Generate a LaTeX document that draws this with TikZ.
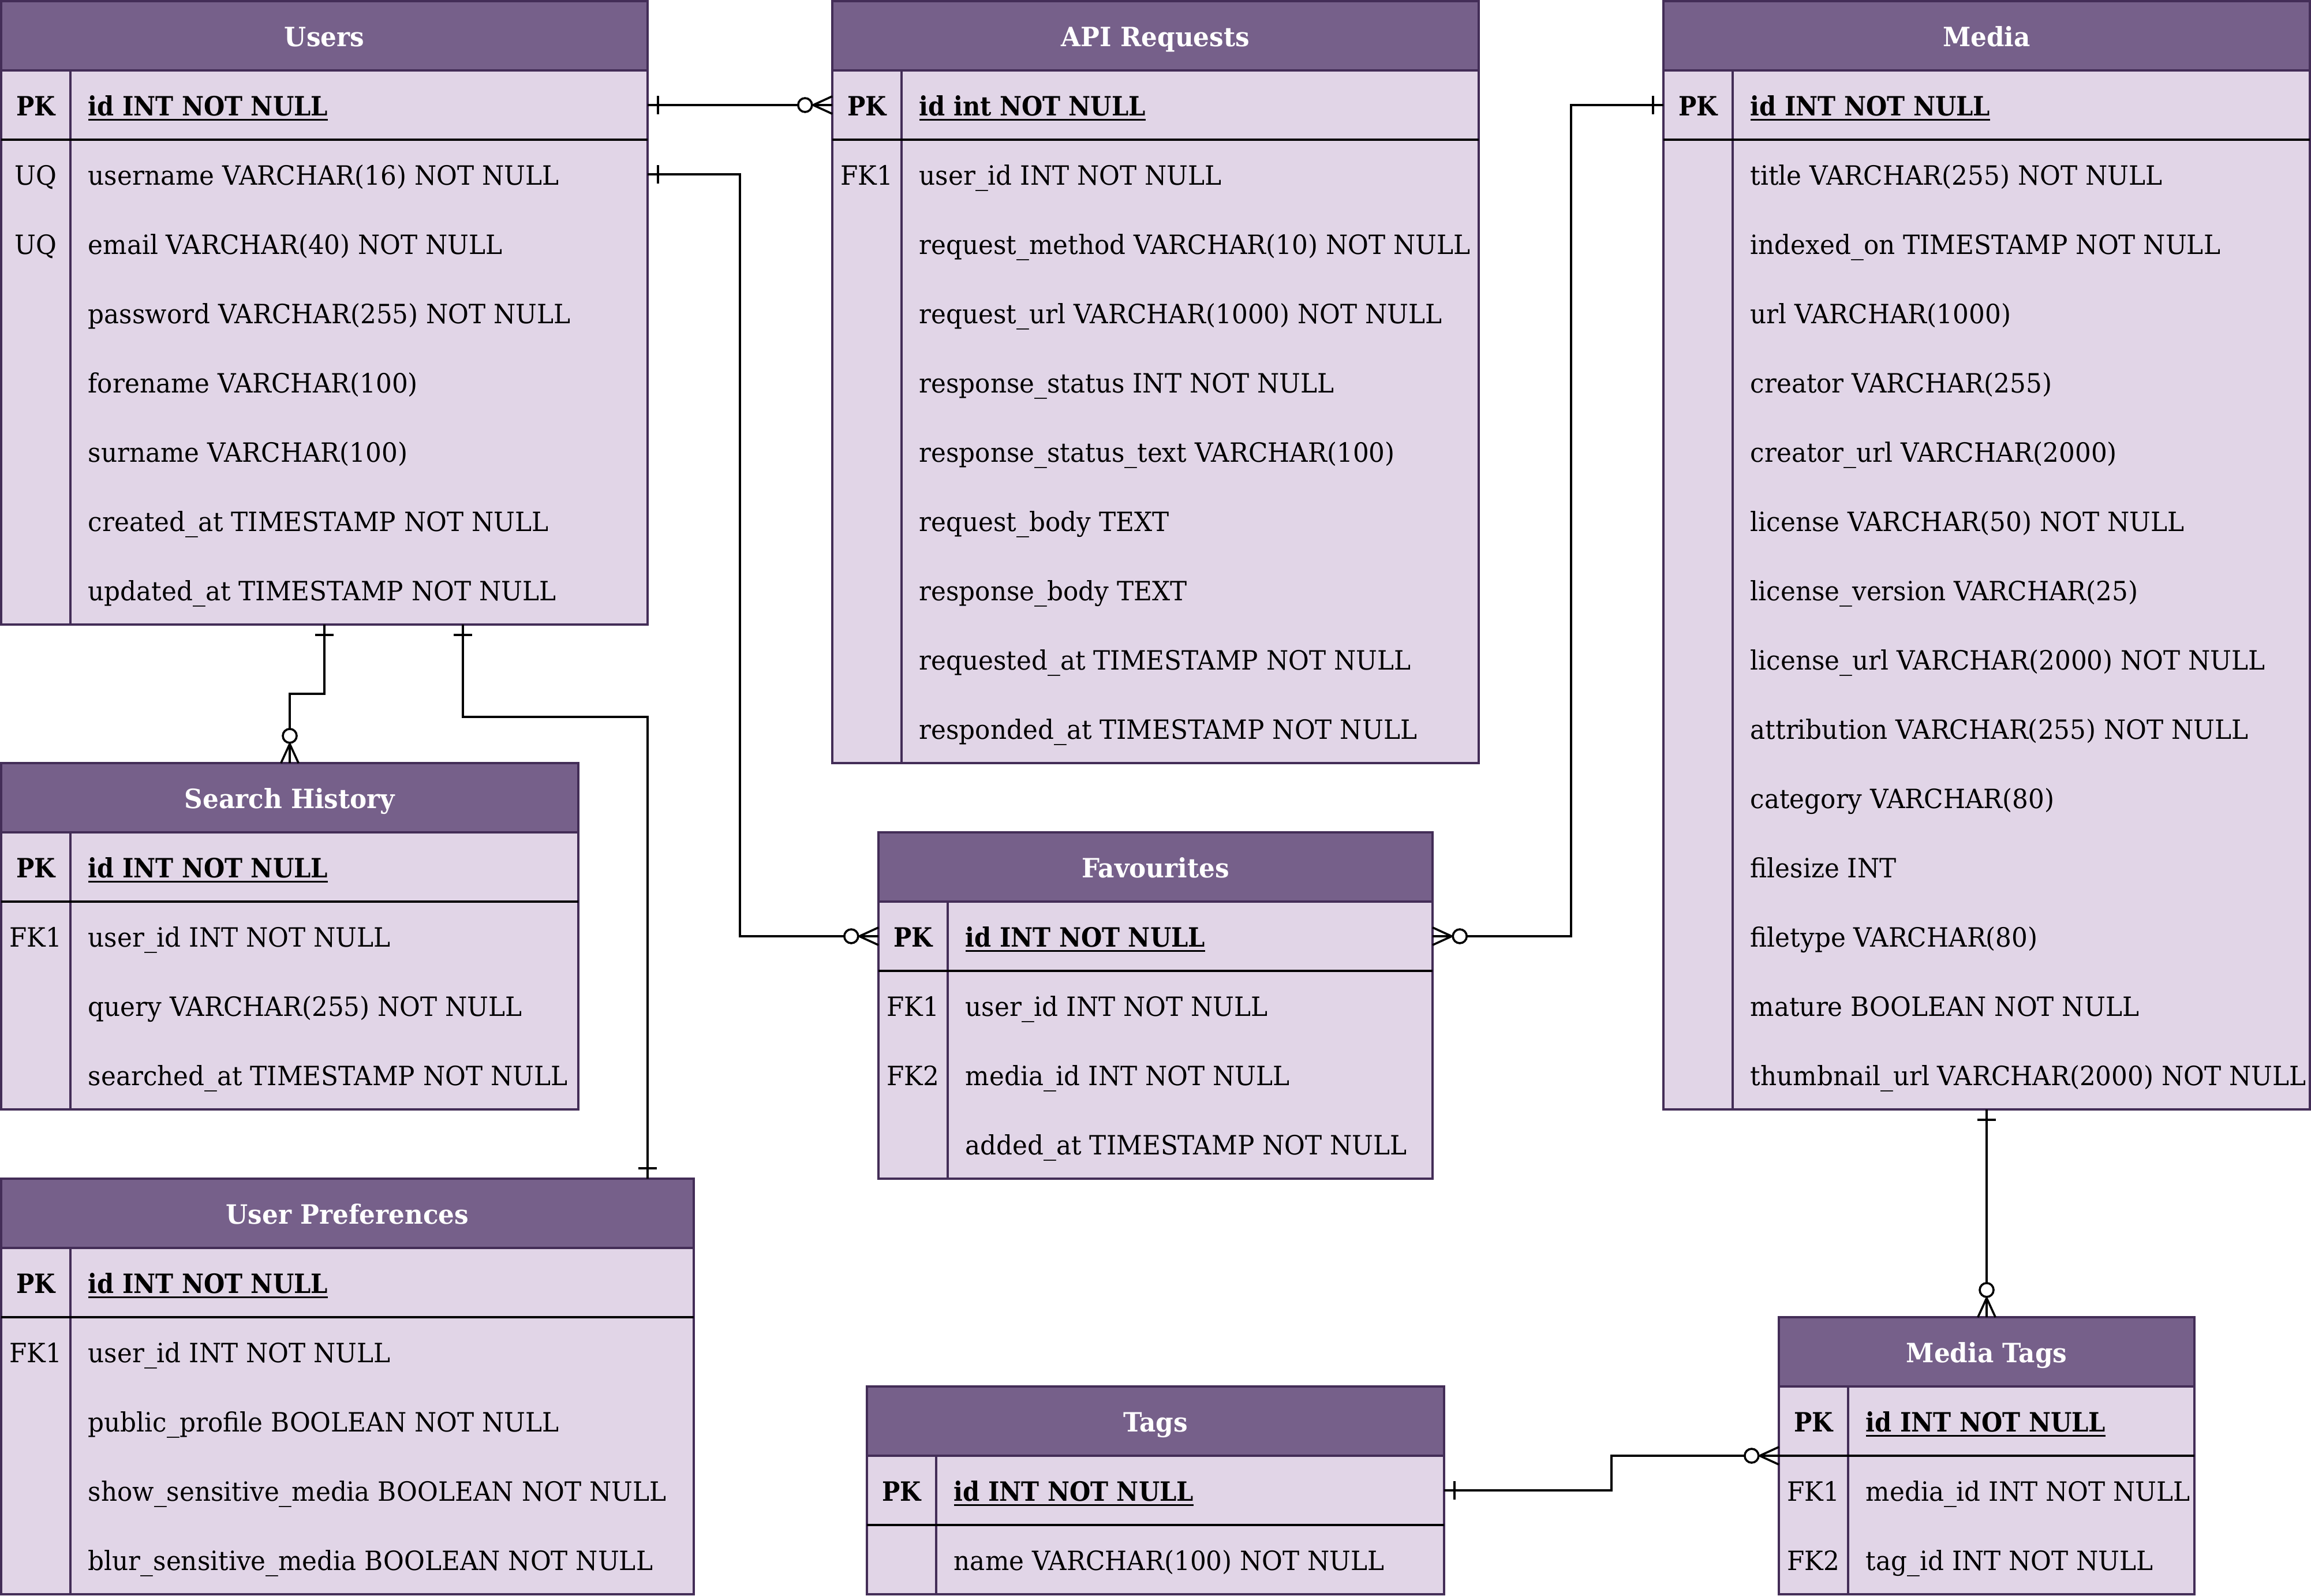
\documentclass[tikz,border=0pt]{standalone}
\usepackage{fontspec}
\setmainfont{DejaVu Serif}[FakeStretch=0.95]
\newfontfamily\pkfont{DejaVu Serif}[FakeStretch=0.905]
\definecolor{hdrfill}{HTML}{76608A}
\definecolor{tabstroke}{HTML}{432D57}
\definecolor{bodyfill}{HTML}{E1D5E7}
\pgfdeclarearrow{
  name = ERone,
  setup code = {
    \pgfarrowssettipend{0pt}
    \pgfarrowssetlineend{0pt}
    \pgfarrowssetbackend{-5pt}
    \pgfarrowsupperhullpoint{-5pt}{4pt}
    \pgfarrowsupperhullpoint{0pt}{4pt}
  },
  drawing code = {
    \pgfsetdash{}{0pt}
    \pgfpathmoveto{\pgfqpoint{-4.5pt}{-4pt}}
    \pgfpathlineto{\pgfqpoint{-4.5pt}{4pt}}
    \pgfusepathqstroke
  },
}
\pgfdeclarearrow{
  name = ERzmany,
  setup code = {
    \pgfarrowssettipend{0pt}
    \pgfarrowssetlineend{0pt}
    \pgfarrowssetbackend{-16pt}
    \pgfarrowsupperhullpoint{-16pt}{4pt}
    \pgfarrowsupperhullpoint{0pt}{4pt}
  },
  drawing code = {
    \pgfsetdash{}{0pt}
    \pgfpathmoveto{\pgfqpoint{0pt}{3.8pt}}
    \pgfpathlineto{\pgfqpoint{-8.3pt}{0pt}}
    \pgfpathlineto{\pgfqpoint{0pt}{-3.8pt}}
    \pgfusepathqstroke
    \pgfsetfillcolor{white}
    \pgfpathcircle{\pgfqpoint{-11.8pt}{0pt}}{3pt}
    \pgfusepathqfillstroke
  },
}
\newcommand\erfont{\fontsize{11.5}{14}\selectfont}
\newcommand\pkul[1]{\setbox0\hbox{#1}\rlap{\rule[-2pt]{\wd0}{0.8pt}}\box0}
\tikzset{
  hdrbox/.style={rectangle, inner sep=0pt, outer sep=0pt, minimum height=30pt, fill=hdrfill, draw=tabstroke, line width=1pt},
  rowbox/.style={rectangle, inner sep=0pt, outer sep=0pt, minimum height=30pt, fill=bodyfill, draw=tabstroke, line width=1pt},
  rowcell/.style={rectangle, inner sep=0pt, outer sep=0pt, minimum height=30pt},
  hdrtext/.style={anchor=base, inner sep=0pt, text=white, font=\erfont\bfseries},
  keytext/.style={anchor=base, inner sep=0pt, font=\erfont},
  fieldtext/.style={anchor=base west, inner sep=0pt, font=\erfont},
  pktext/.style={font=\pkfont\erfont\bfseries},
  divider/.style={draw=tabstroke, line width=1pt},
  pksep/.style={draw=black, line width=1pt},
  conn/.style={draw=black, line width=0.9pt},
}
\newcommand\erTable[8]{%
  \node[hdrbox, minimum width=#4pt, anchor=north west] (#1) at (#2,#3) {};
  \node[hdrtext] (#1-title) at ([yshift=-4.7pt]#1.center) {#6};
  \node[rowbox, minimum width=#4pt, anchor=north west] (#1-pk) at (#2,#3+30) {};
  \node[rowbox, minimum width=#4pt, minimum height=#5*30pt, anchor=north west] (#1-body) at (#2,#3+60) {};
  \draw[divider] ([xshift=30pt]#1-pk.north west) -- ([xshift=30pt]#1-body.south west);
  \draw[pksep] (#1-pk.south west) -- (#1-pk.south east);
  \node[keytext, pktext] (#1-pkk) at ([xshift=15pt,yshift=-4.7pt]#1-pk.west) {PK};
  \node[fieldtext, pktext] (#1-pkf) at ([xshift=37.5pt,yshift=-4.7pt]#1-pk.west) {\pkul{#7}};
  \foreach \k/\f [count=\i] in {#8} {
    \node[rowcell, minimum width=#4pt, anchor=north west] (#1-r\i) at (#2,{#3+30+30*\i}) {};
    \node[keytext] (#1-k\i) at ([xshift=15pt,yshift=-4.7pt]#1-r\i.west) {\k};
    \node[fieldtext] (#1-f\i) at ([xshift=37.5pt,yshift=-4.7pt]#1-r\i.west) {\f};
  }%
}
\begin{document}
\begin{tikzpicture}[x=1pt, y=-1pt]
\useasboundingbox (-0.5,-0.5) rectangle (1000.5,690.5);

\erTable{users}{0}{0}{280}{7}{Users}{id INT NOT NULL}{
  UQ/username VARCHAR(16) NOT NULL,
  UQ/email VARCHAR(40) NOT NULL,
  {}/password VARCHAR(255) NOT NULL,
  {}/forename VARCHAR(100),
  {}/surname VARCHAR(100),
  {}/created\_at TIMESTAMP NOT NULL,
  {}/updated\_at TIMESTAMP NOT NULL}

\erTable{api}{360}{0}{280}{9}{API Requests}{id int NOT NULL}{
  FK1/user\_id INT NOT NULL,
  {}/request\_method VARCHAR(10) NOT NULL,
  {}/request\_url VARCHAR(1000) NOT NULL,
  {}/response\_status INT NOT NULL,
  {}/response\_status\_text VARCHAR(100),
  {}/request\_body TEXT,
  {}/response\_body TEXT,
  {}/requested\_at TIMESTAMP NOT NULL,
  {}/responded\_at TIMESTAMP NOT NULL}

\erTable{media}{720}{0}{280}{14}{Media}{id INT NOT NULL}{
  {}/title VARCHAR(255) NOT NULL,
  {}/indexed\_on TIMESTAMP NOT NULL,
  {}/url VARCHAR(1000),
  {}/creator VARCHAR(255),
  {}/creator\_url VARCHAR(2000),
  {}/license VARCHAR(50) NOT NULL,
  {}/license\_version VARCHAR(25),
  {}/license\_url VARCHAR(2000) NOT NULL,
  {}/attribution VARCHAR(255) NOT NULL,
  {}/category VARCHAR(80),
  {}/filesize INT,
  {}/filetype VARCHAR(80),
  {}/mature BOOLEAN NOT NULL,
  {}/thumbnail\_url VARCHAR(2000) NOT NULL}

\erTable{search}{0}{330}{250}{3}{Search History}{id INT NOT NULL}{
  FK1/user\_id INT NOT NULL,
  {}/query VARCHAR(255) NOT NULL,
  {}/searched\_at TIMESTAMP NOT NULL}

\erTable{fav}{380}{360}{240}{3}{Favourites}{id INT NOT NULL}{
  FK1/user\_id INT NOT NULL,
  FK2/media\_id INT NOT NULL,
  {}/added\_at TIMESTAMP NOT NULL}

\erTable{prefs}{0}{510}{300}{4}{User Preferences}{id INT NOT NULL}{
  FK1/user\_id INT NOT NULL,
  {}/public\_profile BOOLEAN NOT NULL,
  {}/show\_sensitive\_media BOOLEAN NOT NULL,
  {}/blur\_sensitive\_media BOOLEAN NOT NULL}

\erTable{tags}{375}{600}{250}{1}{Tags}{id INT NOT NULL}{
  {}/name VARCHAR(100) NOT NULL}

\erTable{mtags}{770}{570}{180}{2}{Media Tags}{id INT NOT NULL}{
  FK1/media\_id INT NOT NULL,
  FK2/tag\_id INT NOT NULL}

% connectors
\draw[conn, {ERone}-{ERzmany}] (users-pk.east) -- (api-pk.west);
\draw[conn, {ERone}-{ERzmany}] (users-r1.east) -- ++(40,0) |- (fav-pk.west);
\draw[conn, {ERone}-{ERzmany}] (media-pk.west) -- ++(-40,0) |- (fav-pk.east);
\draw[conn, {ERone}-{ERzmany}] (users-body.south) -- ++(0,30) -| (search.north);
\draw[conn, {ERone}-{ERone}] ([xshift=60pt]users-body.south) -- ++(0,40) -| ([xshift=-20pt]prefs.north east);
\draw[conn, {ERone}-{ERzmany}] (media-body.south) -- (mtags.north);
\draw[conn, {ERone}-{ERzmany}] (tags-pk.east) -- ++(72.5,0) |- (mtags-pk.south west);
\end{tikzpicture}
\end{document}
